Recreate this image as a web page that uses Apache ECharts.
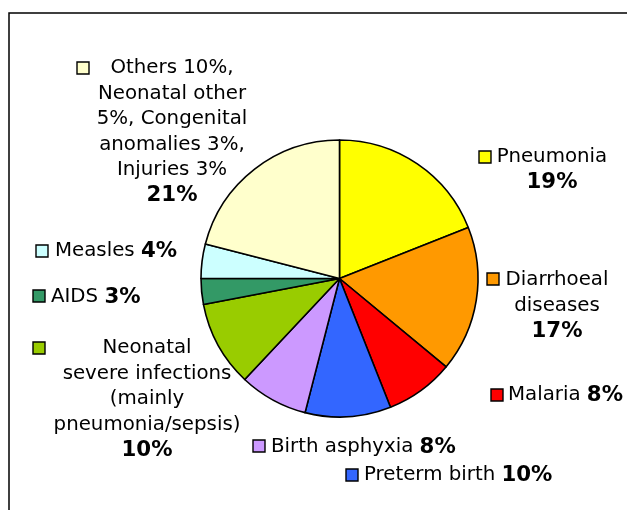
<!DOCTYPE html>
<html>
<head>
<meta charset="utf-8">
<script src="https://cdn.jsdelivr.net/npm/echarts@6/dist/echarts.min.js"></script>
<style>
html,body{margin:0;padding:0;background:#fff;}
#chart{width:627px;height:510px;}
</style>
</head>
<body>
<div id="chart"></div>
<script>
// ---- data ----
const categories = ['Pneumonia', 'Diarrhoeal diseases', 'Malaria', 'Preterm birth', 'Birth asphyxia',
  'Neonatal severe infections (mainly pneumonia/sepsis)', 'AIDS', 'Measles',
  'Others 10%, Neonatal other 5%, Congenital anomalies 3%, Injuries 3%'];
const values = [19, 17, 8, 10, 8, 10, 3, 4, 21];
const colors = ['#ffff00', '#ff9900', '#ff0000', '#3366ff', '#cc99ff', '#99cc00', '#339966', '#ccffff', '#ffffcc'];
const labelLines = [
  ['Pneumonia'],
  ['Diarrhoeal', 'diseases'],
  ['Malaria'],
  ['Preterm birth'],
  ['Birth asphyxia'],
  ['Neonatal', 'severe infections', '(mainly', 'pneumonia/sepsis)'],
  ['AIDS'],
  ['Measles'],
  ['Others 10%,', 'Neonatal other', '5%, Congenital', 'anomalies 3%,', 'Injuries 3%']
];

// ---- label layout (positions only) ----
const FONT = 'DejaVu Sans, Verdana, sans-serif';
const FS = 19.8;
const FSB = 21.3;
const LH = 25.5;
const labelLayout = [
  {box: [479, 151], x: 552, y: 157, align: 'center', inline: false},
  {box: [487, 273], x: 557, y: 280, align: 'center', inline: false},
  {box: [491, 389], x: 508, y: 395, align: 'left', inline: true},
  {box: [346, 469], x: 364, y: 475, align: 'left', inline: true},
  {box: [253, 440], x: 271, y: 447, align: 'left', inline: true},
  {box: [33, 342], x: 147, y: 348, align: 'center', inline: false},
  {box: [33, 290], x: 51, y: 297, align: 'left', inline: true},
  {box: [36, 245], x: 55, y: 251, align: 'left', inline: true},
  {box: [77, 62], x: 172, y: 68, align: 'center', inline: false}
];

const graphics = [{
  type: 'rect', silent: true, z: 0,
  shape: {x: 9, y: 13, width: 700, height: 600},
  style: {fill: 'none', stroke: '#000', lineWidth: 1.5}
}];

categories.forEach((c, i) => {
  const L = labelLayout[i];
  const pct = values[i] + '%';
  let txt;
  if (L.inline) {
    txt = '{n|' + labelLines[i].join(' ') + ' }{p|' + pct + '}';
  } else {
    txt = labelLines[i].map(s => '{n|' + s + '}').join('\n') + '\n{p|' + pct + '}';
  }
  graphics.push({
    type: 'rect', z: 10,
    shape: {x: L.box[0], y: L.box[1], width: 12, height: 12},
    style: {fill: colors[i], stroke: '#000', lineWidth: 1.4}
  });
  graphics.push({
    type: 'text', z: 10,
    x: L.x, y: L.y - LH / 2,
    style: {
      text: txt,
      align: L.align,
      verticalAlign: 'top',
      rich: {
        n: {fontFamily: FONT, fontSize: FS, color: '#111', lineHeight: LH},
        p: {fontFamily: FONT, fontSize: FSB, fontWeight: 'bold', color: '#111', lineHeight: LH}
      }
    }
  });
});

const chart = echarts.init(document.getElementById('chart'), null, {renderer: 'canvas'});
chart.setOption({
  animation: false,
  backgroundColor: '#fff',
  graphic: graphics,
  series: [{
    type: 'pie',
    center: [339.5, 278.5],
    radius: [0, 138.5],
    startAngle: 90,
    clockwise: true,
    avoidLabelOverlap: false,
    label: {show: false},
    labelLine: {show: false},
    emphasis: {disabled: true},
    itemStyle: {borderColor: '#000', borderWidth: 1.6},
    data: categories.map((c, i) => ({name: c, value: values[i], itemStyle: {color: colors[i]}}))
  }]
});
</script>
</body>
</html>
